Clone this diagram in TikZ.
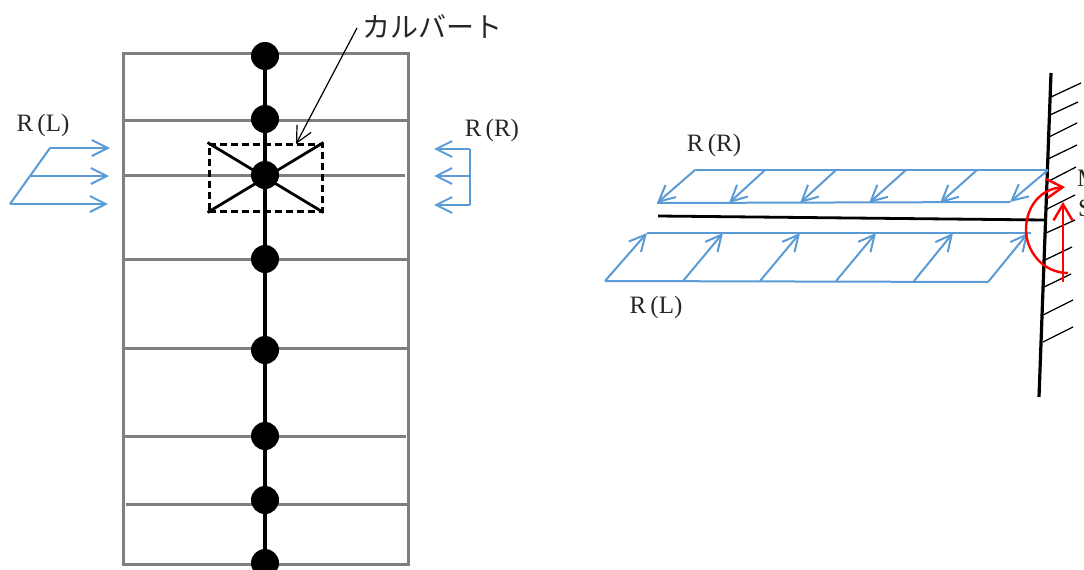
\documentclass[tikz,border=0pt]{standalone}
\usepackage{fontspec}
\setmainfont{Liberation Serif}
\newfontfamily\jpfont{Noto Sans CJK JP}
\usetikzlibrary{arrows.meta,backgrounds}

\begin{document}
\begin{tikzpicture}[
	x=1pt, y=-1pt,
	>={Straight Barb[length=16pt,width=16pt,line width=2pt]},
	jointnode/.style={circle, fill=black, inner sep=0pt, minimum size=28pt},
	framenode/.style={draw=framegray, line width=3pt, minimum width=285pt, minimum height=511pt, inner sep=0pt},
	culvertnode/.style={draw=black, dash pattern=on 7pt off 4pt, line width=3pt, minimum width=113pt, minimum height=67pt, inner sep=0pt},
	labelnode/.style={font=\fontsize{25}{25}\selectfont, text=black!85, inner sep=0pt},
	floor/.style={draw=framegray, line width=3pt},
	spine/.style={draw=black, line width=3.4pt},
	load/.style={draw=loadblue, line width=2pt},
	redline/.style={draw=red, line width=2.4pt, >={Straight Barb[length=16pt,width=19pt,line width=2.4pt]}},
	hatch/.style={draw=black, line width=1.3pt},
	]
	\definecolor{framegray}{HTML}{7F7F7F}
	\definecolor{loadblue}{HTML}{5B9BD5}
	\useasboundingbox (0,0) rectangle (1084,570);
	
	%Nodes
	\node[jointnode] (j1) at (265,56)  {};
	\node[jointnode] (j2) at (265,119) {};
	\node[jointnode] (j3) at (265,175) {};
	\node[jointnode] (j4) at (265,259) {};
	\node[jointnode] (j5) at (265,350) {};
	\node[jointnode] (j6) at (265,436) {};
	\node[jointnode] (j7) at (265,500) {};
	\node[jointnode] (j8) at (265,563) {};
	\node[culvertnode] (culvert) at (265.5,177.5) {};
	\node[labelnode, anchor=west] (culvertlabel) at (362,26) {\jpfont\fontsize{28}{28}\selectfont カルバート};
	\node[labelnode] (leftRL)  at (43,125)  {R\,(L)};
	\node[labelnode] (leftRR)  at (492,130) {R\,(R)};
	\node[labelnode] (beamRR)  at (714,145) {R\,(R)};
	\node[labelnode] (beamRL)  at (656,307) {R\,(L)};
	\node[labelnode, anchor=west] (momentlabel) at (1077,178) {M};
	\node[labelnode, anchor=west] (shearlabel)  at (1078,208) {S};
	
	%Frame
	\begin{scope}[on background layer]
		\node[framenode] (frame) at (265.5,308.5) {};
		\coordinate (f2a) at (123,120); \coordinate (f2b) at (408,120);
		\coordinate (f3a) at (123,175); \coordinate (f3b) at (405,175);
		\coordinate (f4a) at (123,259); \coordinate (f4b) at (408,259);
		\coordinate (f5a) at (123,348); \coordinate (f5b) at (408,348);
		\coordinate (f6a) at (123,436); \coordinate (f6b) at (406,436);
		\coordinate (f7a) at (126,504); \coordinate (f7b) at (408,504);
		\draw[floor] (f2a) -- (f2b);
		\draw[floor] (f3a) -- (f3b);
		\draw[floor] (f4a) -- (f4b);
		\draw[floor] (f5a) -- (f5b);
		\draw[floor] (f6a) -- (f6b);
		\draw[floor] (f7a) -- (f7b);
		\draw[spine] (j1) -- (j2);
		\draw[spine] (j2) -- (j3);
		\draw[spine] (j3) -- (j4);
		\draw[spine] (j4) -- (j5);
		\draw[spine] (j5) -- (j6);
		\draw[spine] (j6) -- (j7);
		\draw[spine] (j7) -- (j8);
		\draw[black, line width=2.8pt] (culvert.north west) -- (culvert.south east);
		\draw[black, line width=2.8pt] (culvert.south west) -- (culvert.north east);
	\end{scope}
	
	%Culvert leader
	\coordinate (leader) at (357,28);
	\coordinate (leaderend) at (296,144);
	\draw[->, black, line width=1.2pt, >={Straight Barb[length=16pt,width=16pt,line width=1.2pt]}] (leader) -- (leaderend);
	
	%Left load
	\coordinate (la1) at (50,148);  \coordinate (lb1) at (110,148);
	\coordinate (la2) at (30,176);  \coordinate (lb2) at (109,176);
	\coordinate (la3) at (10,204);  \coordinate (lb3) at (108,204);
	\draw[load] (la1) -- (la3);
	\draw[load, ->] (la1) -- (lb1);
	\draw[load, ->] (la2) -- (lb2);
	\draw[load, ->] (la3) -- (lb3);
	
	%Right load
	\coordinate (ra1) at (470,149); \coordinate (rb1) at (434,149);
	\coordinate (ra2) at (470,176); \coordinate (rb2) at (434,176);
	\coordinate (ra3) at (470,205); \coordinate (rb3) at (434,205);
	\draw[load] (ra1) -- (ra3);
	\draw[load, ->] (ra1) -- (rb1);
	\draw[load, ->] (ra2) -- (rb2);
	\draw[load, ->] (ra3) -- (rb3);
	
	%Wall and beam
	\coordinate (walltop) at (1051,73);
	\coordinate (wallbot) at (1039,397);
	\coordinate (beama) at (658,216);
	\coordinate (beamb) at (1045,220);
	\draw[black, line width=3.2pt] (walltop) -- (wallbot);
	\draw[black, line width=2.8pt] (beama) -- (beamb);
	\draw[hatch] (1051,97) -- (1081,83);
	\draw[hatch] (1050,115) -- (1078,102);
	\draw[hatch] (1049,137) -- (1077,123);
	\draw[hatch] (1048,159) -- (1077,145);
	\draw[hatch] (1047,182) -- (1076,167);
	\draw[hatch] (1047,209) -- (1075,195);
	\draw[hatch] (1046,233) -- (1075,220);
	\draw[hatch] (1045,260) -- (1072,247);
	\draw[hatch] (1044,287) -- (1071,274);
	\draw[hatch] (1043,315) -- (1073,300);
	\draw[hatch] (1043,342) -- (1073,327);
	
	%Upper beam load
	\coordinate (ut1) at (695,170);  \coordinate (ub1) at (657,203);
	\coordinate (ut2) at (765,170);  \coordinate (ub2) at (729,203);
	\coordinate (ut3) at (836,170);  \coordinate (ub3) at (800,203);
	\coordinate (ut4) at (906,170);  \coordinate (ub4) at (869,203);
	\coordinate (ut5) at (977,170);  \coordinate (ub5) at (940,203);
	\coordinate (ut6) at (1048,170); \coordinate (ub6) at (1010,202);
	\draw[load] (ut1) -- (ut6);
	\draw[load] (ub1) -- (ub6);
	\draw[load, ->] (ut1) -- (ub1);
	\draw[load, ->] (ut2) -- (ub2);
	\draw[load, ->] (ut3) -- (ub3);
	\draw[load, ->] (ut4) -- (ub4);
	\draw[load, ->] (ut5) -- (ub5);
	\draw[load, ->] (ut6) -- (ub6);
	
	%Lower beam load
	\coordinate (lt1) at (647,233);  \coordinate (lo1) at (605,281);
	\coordinate (lt2) at (723,233);  \coordinate (lo2) at (683,281);
	\coordinate (lt3) at (800,233);  \coordinate (lo3) at (760,281);
	\coordinate (lt4) at (876,233);  \coordinate (lo4) at (836,281);
	\coordinate (lt5) at (953,233);  \coordinate (lo5) at (914,281);
	\coordinate (lt6) at (1028,233); \coordinate (lo6) at (988,282);
	\coordinate (ltend) at (1031,233);
	\draw[load] (lt1) -- (ltend);
	\draw[load] (lo1) -- (lo6);
	\draw[load, ->] (lo1) -- (lt1);
	\draw[load, ->] (lo2) -- (lt2);
	\draw[load, ->] (lo3) -- (lt3);
	\draw[load, ->] (lo4) -- (lt4);
	\draw[load, ->] (lo5) -- (lt5);
	\draw[load, ->] (lo6) -- (lt6);
	
	%Moment and shear
	\coordinate (momenta) at (1068,273);
	\coordinate (momentb) at (1065,187);
	\coordinate (sheara) at (1063,282);
	\coordinate (shearb) at (1063,202);
	\draw[redline, ->] (momenta) .. controls (1042,273) and (1026,250) .. (1026,230)
		.. controls (1026,207) and (1040,189) .. (momentb);
	\draw[redline, ->] (sheara) -- (shearb);
\end{tikzpicture}
\end{document}
